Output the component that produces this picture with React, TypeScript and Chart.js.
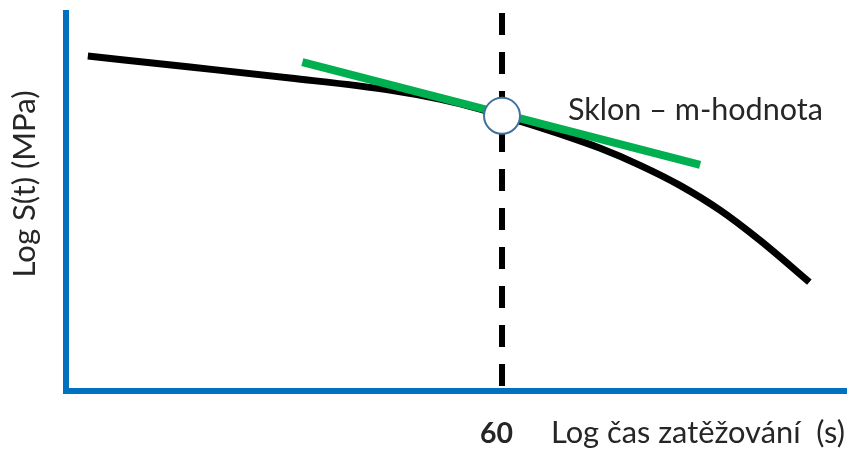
import React, { useEffect, useRef } from "react";
import { Chart, registerables } from "chart.js";

Chart.register(...registerables);

// Black curve: log S(t) versus log loading time (abstract units 0..100)
const curveTime = [2.8, 15.9, 28.7, 41.5, 47.9, 53.1, 55.9, 58.5, 63.3, 68.5, 73.6, 78.7, 83.8, 89.0, 95.3];
const curveStrength = [88.6, 85.7, 82.8, 79.6, 77.2, 74.6, 72.8, 71.2, 68.0, 64.2, 59.7, 54.4, 47.9, 39.8, 28.8];

// Green tangent (slope = m-value)
const tangentTime = [30.3, 81.3];
const tangentStrength = [87.0, 59.8];

// Point at t = 60 s
const markerTime = [55.9];
const markerStrength = [72.8];

// Dashed vertical line at t = 60 s
const dashTime = [55.9, 55.9];
const dashStrength = [100, 0];

const xTickLabel = "60";
const xTitle = "Log čas zatěžování  (s)";
const yTitle = "Log S(t) (MPa)";
const slopeLabel = "Sklon – m-hodnota";

const FONT = "Lato, 'Noto Sans', sans-serif";
const TEXT = "#262626";

function fitFont(ctx: CanvasRenderingContext2D, text: string, target: number, weight: string) {
  ctx.font = `${weight} 28px ${FONT}`;
  const w = ctx.measureText(text).width;
  const size = (28 * target) / w;
  ctx.font = `${weight} ${size}px ${FONT}`;
}

const textPlugin = {
  id: "texts",
  afterDraw(chart: any) {
    const ctx: CanvasRenderingContext2D = chart.ctx;
    ctx.save();
    ctx.fillStyle = TEXT;
    ctx.textBaseline = "alphabetic";
    ctx.textAlign = "left";

    fitFont(ctx, slopeLabel, 255, "normal");
    ctx.fillText(slopeLabel, 568, 120);

    fitFont(ctx, xTitle, 294, "normal");
    ctx.fillText(xTitle, 551, 443);

    fitFont(ctx, xTickLabel, 33, "bold");
    ctx.fillText(xTickLabel, 480, 443);

    ctx.translate(35, 184);
    ctx.rotate(-Math.PI / 2);
    ctx.textAlign = "center";
    fitFont(ctx, yTitle, 187, "normal");
    ctx.fillText(yTitle, 0, 0);
    ctx.restore();
  },
};

export default function App() {
  const ref = useRef<HTMLCanvasElement | null>(null);

  useEffect(() => {
    if (!ref.current) return;
    const toPts = (xs: number[], ys: number[]) => xs.map((x, i) => ({ x, y: ys[i] }));
    const chart = new Chart(ref.current, {
      type: "line",
      data: {
        datasets: [
          {
            data: toPts(markerTime, markerStrength),
            showLine: false,
            pointRadius: 18,
            pointBackgroundColor: "#ffffff",
            pointBorderColor: "#41719C",
            pointBorderWidth: 2,
            order: 0,
          },
          {
            data: toPts(tangentTime, tangentStrength),
            borderColor: "#00B050",
            borderWidth: 8,
            pointRadius: 0,
            borderCapStyle: "butt",
            order: 1,
          },
          {
            data: toPts(curveTime, curveStrength),
            borderColor: "#000000",
            borderWidth: 7,
            pointRadius: 0,
            cubicInterpolationMode: "monotone",
            borderJoinStyle: "round",
            borderCapStyle: "butt",
            order: 2,
          },
          {
            data: toPts(dashTime, dashStrength),
            borderColor: "#000000",
            borderWidth: 6,
            borderDash: [22, 17],
            pointRadius: 0,
            order: 3,
          },
        ],
      },
      options: {
        responsive: false,
        animation: false,
        events: [],
        layout: { autoPadding: false, padding: { left: 66, right: 7, top: 13, bottom: 62 } },
        plugins: { legend: { display: false }, tooltip: { enabled: false } },
        scales: {
          x: {
            type: "linear",
            min: 0,
            max: 100,
            grid: { display: true, color: "rgba(0,0,0,0)", drawOnChartArea: false, drawTicks: false },
            border: { display: true, color: "#0070C0", width: 6 },
            ticks: { display: false },
          },
          y: {
            type: "linear",
            min: 0,
            max: 100,
            grid: { display: true, color: "rgba(0,0,0,0)", drawOnChartArea: false, drawTicks: false },
            border: { display: true, color: "#0070C0", width: 6 },
            ticks: { display: false },
          },
        },
      },
      plugins: [textPlugin],
    });
    return () => chart.destroy();
  }, []);

  return (
    <div style={{ position: "absolute", left: 0, top: 0, width: 853, height: 453, background: "#fff" }}>
      <canvas ref={ref} width={853} height={453} style={{ display: "block" }} />
    </div>
  );
}
